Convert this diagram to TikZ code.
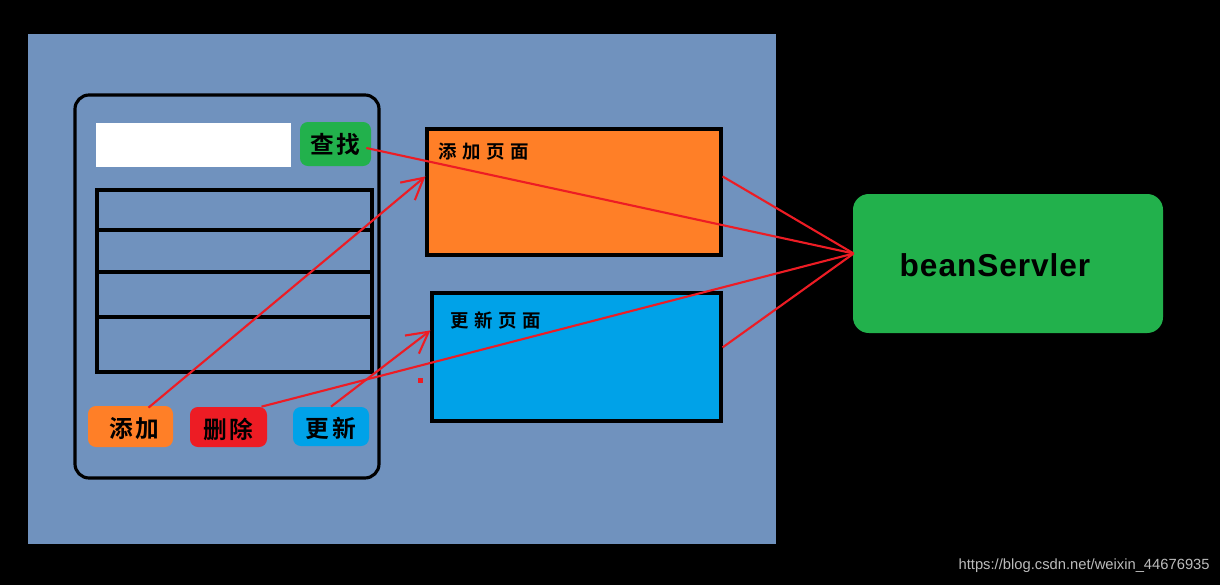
\documentclass[tikz,border=0pt]{standalone}
\usepackage{fontspec}
\setmainfont{Liberation Sans}
\newfontfamily\cjkbtn{Noto Sans CJK SC Bold}[LetterSpace=12]
\newfontfamily\cjkttl{Noto Sans CJK SC Bold}[LetterSpace=30]
\newfontfamily\beanfont{Liberation Sans Bold}[LetterSpace=3]
\usetikzlibrary{arrows.meta,fit,calc}
\definecolor{panel}{HTML}{7092BE}
\definecolor{porange}{HTML}{FF7F27}
\definecolor{pblue}{HTML}{00A2E8}
\definecolor{pgreen}{HTML}{22B14C}
\definecolor{pred}{HTML}{ED1C24}
\definecolor{wmark}{HTML}{BBBBBB}
\tikzset{
  frame/.style={draw=black, line width=1.8pt, rounded corners=8pt, inner sep=0pt},
  tbl/.style={draw=black, line width=2pt, inner sep=0pt},
  btn/.style={rounded corners=4.5pt, inner sep=0pt},
  btntxt/.style={inner sep=0pt, font=\cjkbtn\fontsize{13.5pt}{14pt}\selectfont},
  page/.style={draw=black, line width=1.8pt, inner sep=0pt},
  ttl/.style={anchor=west, inner sep=0pt, font=\cjkttl\fontsize{10.5pt}{12pt}\selectfont},
  link/.style={draw=pred, line width=1.2pt},
  arr/.style={-{Straight Barb[length=12pt,width=13pt,line width=1.2pt]}},
}
\begin{document}
\begin{tikzpicture}[x=0.02cm,y=-0.02cm]
\useasboundingbox (0,0) rectangle (1220,585);
\fill[black] (0,0) rectangle (1220,585);
\fill[panel] (28,34) rectangle (776,544);
% phone frame
\node[frame, fit={(75,95)(379,478)}] (phone) {};
\node[fill=white, inner sep=0pt, fit={(96,123)(291,167)}] (search) {};
\node[btn, fill=pgreen, fit={(300,122)(371,166)}] (find) {};
\node[btntxt] (findt) at (find.center) {查找};
% table
\node[tbl, fit={(97,190)(372,372)}] (table) {};
\draw[line width=2pt] ($(table.north west)+(0,42)$) -- ($(table.north east)+(0,42)$);
\draw[line width=2pt] ($(table.north west)+(0,84)$) -- ($(table.north east)+(0,84)$);
\draw[line width=2pt] ($(table.north west)+(0,129)$) -- ($(table.north east)+(-3,129)$);
% buttons
\node[btn, fill=porange, fit={(88,406)(173,447)}] (add) {};
\node[btntxt] (addt) at ($(add.center)+(4,2)$) {添加};
\node[btn, fill=pred, fit={(190,407)(267,447)}] (del) {};
\node[btntxt] (delt) at ($(del.center)+(0,2)$) {删除};
\node[btn, fill=pblue, fit={(293,407)(369,446)}] (upd) {};
\node[btntxt] (updt) at ($(upd.center)+(0,2)$) {更新};
% pages
\node[page, fill=porange, fit={(427,129)(721,255)}] (addp) {};
\node[ttl] (addpt) at ($(addp.north west)+(13,24)$) {添加页面};
\node[page, fill=pblue, fit={(432,293)(721,421)}] (updp) {};
\node[ttl] (updpt) at ($(updp.north west)+(20,29)$) {更新页面};
% servlet
\node[fill=pgreen, rounded corners=9pt, inner sep=0pt, fit={(853,194)(1163,333)}] (bean) {};
\node[inner sep=0pt, font=\beanfont\fontsize{18pt}{20pt}\selectfont] (beant) at ($(bean.center)+(-13,2)$) {beanServler};
\coordinate (bj) at ($(bean.west)+(1,-10)$);
% connectors
\draw[link] ($(find.east)+(-5,4)$) -- (bj);
\draw[link,arr] ($(add.north)+(18,2)$) -- ($(addp.north west)+(0,49)$);
\draw[link] ($(del.north)+(33,0)$) -- (bj);
\draw[link,arr] (upd.north) -- ($(updp.north west)+(0,39)$);
\draw[link] ($(addp.north east)+(0,49)$) -- (bj);
\draw[link] ($(updp.north east)+(0,56)$) -- (bj);
\fill[pred] (418,378) rectangle (423,383);
% watermark
\node[anchor=east, inner sep=0pt, text=wmark, font=\fontsize{8.4pt}{10pt}\selectfont] (wm) at (1210,566) {https://blog.csdn.net/weixin\_44676935};
\end{tikzpicture}
\end{document}
